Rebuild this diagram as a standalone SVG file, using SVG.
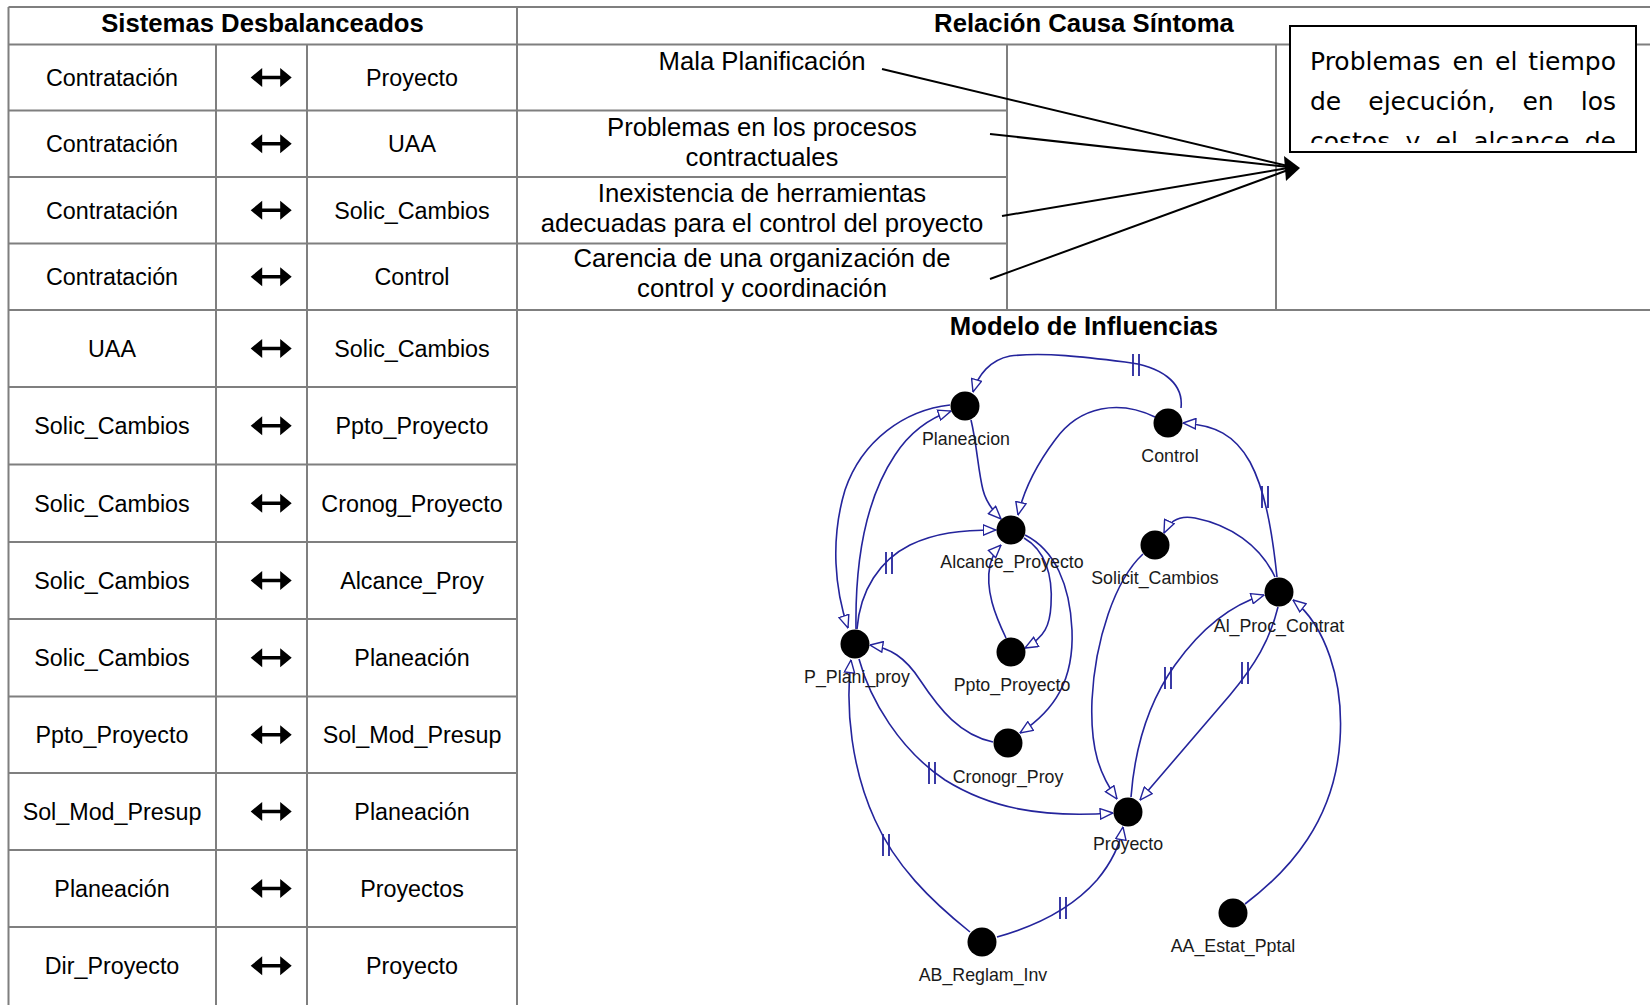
<svg xmlns="http://www.w3.org/2000/svg" xmlns:xlink="http://www.w3.org/1999/xlink" width="1650" height="1005" viewBox="0 0 1650 1005">
  <style>
    .grid { stroke: #7f7f7f; stroke-width: 2; fill: none; }
    .cell { font-family: "Liberation Sans", Arial, sans-serif; font-size: 23.3px; fill: #000; text-anchor: middle; }
    .cause { font-family: "Liberation Sans", Arial, sans-serif; font-size: 25.7px; fill: #000; text-anchor: middle; }
    .head { font-family: "Liberation Sans", Arial, sans-serif; font-size: 25.7px; font-weight: bold; fill: #000; text-anchor: middle; }
    .box { font-family: "DejaVu Sans", Verdana, sans-serif; font-size: 25px; fill: #000; }
    .link { stroke: #000; stroke-width: 2; fill: none; }
    .flow { stroke: #24249c; stroke-width: 1.6; fill: none; marker-end: url(#hollow); }
    .mark { stroke: #24249c; stroke-width: 1.8; }
    .dot { fill: #000; }
    .lbl { font-family: "Liberation Sans", Arial, sans-serif; font-size: 17.8px; fill: #1a1a1a; text-anchor: middle; }
  </style>
  <defs>
    <marker id="hollow" viewBox="0 0 14 12" markerUnits="userSpaceOnUse" markerWidth="14" markerHeight="12" refX="13.5" refY="6" orient="auto">
      <path d="M0.8,0.8 L13.5,6 L0.8,11.2 Z" fill="#fff" stroke="#24249c" stroke-width="1.4"/>
    </marker>
    <path id="dbl" d="M-20.5,0 L-9,-9.5 L-9,-1.8 L9,-1.8 L9,-9.5 L20.5,0 L9,9.5 L9,1.8 L-9,1.8 L-9,9.5 Z" fill="#000"/>
    <g id="delay">
      <line class="mark" x1="-3" y1="-11" x2="-3" y2="11"/>
      <line class="mark" x1="3" y1="-11" x2="3" y2="11"/>
    </g>
    <clipPath id="boxclip">
      <rect x="1291" y="27" width="344" height="116"/>
    </clipPath>
  </defs>

  <rect width="1650" height="1005" fill="#fff"/>

  <!-- table grid -->
  <g id="table-grid" class="grid">
    <line x1="8.5" y1="7" x2="1650" y2="7"/>
    <line x1="8.5" y1="44.5" x2="1650" y2="44.5"/>
    <line x1="8.5" y1="310" x2="1650" y2="310"/>
    <line x1="8.5" y1="7" x2="8.5" y2="1005"/>
    <line x1="517" y1="7" x2="517" y2="1005"/>
    <line x1="216" y1="44.5" x2="216" y2="1005"/>
    <line x1="307" y1="44.5" x2="307" y2="1005"/>
    <line x1="1007" y1="44.5" x2="1007" y2="310"/>
    <line x1="1276" y1="44.5" x2="1276" y2="310"/>
    <!-- rows of the left table -->
    <line x1="8.5" y1="110.5" x2="1007" y2="110.5"/>
    <line x1="8.5" y1="177" x2="1007" y2="177"/>
    <line x1="8.5" y1="243.5" x2="1007" y2="243.5"/>
    <line x1="8.5" y1="387" x2="517" y2="387"/>
    <line x1="8.5" y1="464.5" x2="517" y2="464.5"/>
    <line x1="8.5" y1="542" x2="517" y2="542"/>
    <line x1="8.5" y1="619" x2="517" y2="619"/>
    <line x1="8.5" y1="696.5" x2="517" y2="696.5"/>
    <line x1="8.5" y1="773" x2="517" y2="773"/>
    <line x1="8.5" y1="850" x2="517" y2="850"/>
    <line x1="8.5" y1="927" x2="517" y2="927"/>
  </g>

  <!-- headers -->
  <text class="head" x="262.5" y="32">Sistemas Desbalanceados</text>
  <text class="head" x="1084" y="32">Relación Causa Síntoma</text>
  <text class="head" x="1084" y="335">Modelo de Influencias</text>

  <!-- unbalanced system pairs -->
  <g id="pairs">
    <g id="row1"><text class="cell" x="112" y="86">Contratación</text><use href="#dbl" x="271.2" y="77.5"/><text class="cell" x="412" y="86">Proyecto</text></g>
    <g id="row2"><text class="cell" x="112" y="152">Contratación</text><use href="#dbl" x="271.2" y="143.8"/><text class="cell" x="412" y="152">UAA</text></g>
    <g id="row3"><text class="cell" x="112" y="219">Contratación</text><use href="#dbl" x="271.2" y="210.3"/><text class="cell" x="412" y="219">Solic_Cambios</text></g>
    <g id="row4"><text class="cell" x="112" y="285">Contratación</text><use href="#dbl" x="271.2" y="276.8"/><text class="cell" x="412" y="285">Control</text></g>
    <g id="row5"><text class="cell" x="112" y="357">UAA</text><use href="#dbl" x="271.2" y="348.5"/><text class="cell" x="412" y="357">Solic_Cambios</text></g>
    <g id="row6"><text class="cell" x="112" y="434">Solic_Cambios</text><use href="#dbl" x="271.2" y="425.8"/><text class="cell" x="412" y="434">Ppto_Proyecto</text></g>
    <g id="row7"><text class="cell" x="112" y="512">Solic_Cambios</text><use href="#dbl" x="271.2" y="503.3"/><text class="cell" x="412" y="512">Cronog_Proyecto</text></g>
    <g id="row8"><text class="cell" x="112" y="589">Solic_Cambios</text><use href="#dbl" x="271.2" y="580.5"/><text class="cell" x="412" y="589">Alcance_Proy</text></g>
    <g id="row9"><text class="cell" x="112" y="666">Solic_Cambios</text><use href="#dbl" x="271.2" y="657.8"/><text class="cell" x="412" y="666">Planeación</text></g>
    <g id="row10"><text class="cell" x="112" y="743">Ppto_Proyecto</text><use href="#dbl" x="271.2" y="734.8"/><text class="cell" x="412" y="743">Sol_Mod_Presup</text></g>
    <g id="row11"><text class="cell" x="112" y="820">Sol_Mod_Presup</text><use href="#dbl" x="271.2" y="811.5"/><text class="cell" x="412" y="820">Planeación</text></g>
    <g id="row12"><text class="cell" x="112" y="897">Planeación</text><use href="#dbl" x="271.2" y="888.5"/><text class="cell" x="412" y="897">Proyectos</text></g>
    <g id="row13"><text class="cell" x="112" y="974">Dir_Proyecto</text><use href="#dbl" x="271.2" y="965.8"/><text class="cell" x="412" y="974">Proyecto</text></g>
  </g>

  <!-- causes -->
  <g id="causes">
    <text class="cause" x="762" y="70">Mala Planificación</text>
    <text class="cause" x="762" y="136">Problemas en los procesos</text>
    <text class="cause" x="762" y="166">contractuales</text>
    <text class="cause" x="762" y="202">Inexistencia de herramientas</text>
    <text class="cause" x="762" y="232">adecuadas para el control del proyecto</text>
    <text class="cause" x="762" y="267">Carencia de una organización de</text>
    <text class="cause" x="762" y="297">control y coordinación</text>
  </g>

  <!-- symptom box -->
  <g id="symptom">
    <rect x="1290" y="26" width="346" height="126" fill="#fff" stroke="#000" stroke-width="2"/>
    <g clip-path="url(#boxclip)" class="box">
      <text y="70"><tspan x="1310">Problemas</tspan><tspan x="1452.6">en</tspan><tspan x="1495">el</tspan><tspan x="1616" text-anchor="end">tiempo</tspan></text>
      <text y="110"><tspan x="1310">de</tspan><tspan x="1368.3">ejecución,</tspan><tspan x="1522.4">en</tspan><tspan x="1616" text-anchor="end">los</tspan></text>
      <text y="150"><tspan x="1310">costos</tspan><tspan x="1405.5">y</tspan><tspan x="1435.6">el</tspan><tspan x="1473.2">alcance</tspan><tspan x="1616" text-anchor="end">de</tspan></text>
    </g>
  </g>

  <!-- cause to symptom links -->
  <g id="cause-links">
    <line class="link" x1="882" y1="69" x2="1288" y2="166"/>
    <line class="link" x1="990" y1="134" x2="1288" y2="167"/>
    <line class="link" x1="1002" y1="216" x2="1288" y2="168"/>
    <line class="link" x1="990" y1="279" x2="1288" y2="170"/>
    <polygon points="1300,168 1284,156 1286,181" fill="#000"/>
  </g>

  <!-- influence model connectors -->
  <g id="connectors">
    <path class="flow" d="M1181,408 C1184,382 1160,366 1125,362 C1085,357 1045,352 1010,356 C990,360 978,375 973,392"/>
    <path class="flow" d="M971,420 C977,445 978,470 983,490 C986,502 992,510 1001,519"/>
    <path class="flow" d="M1155,417 C1120,400 1080,405 1055,440 C1040,460 1025,485 1018,515"/>
    <path class="flow" d="M950,405 C905,410 862,440 845,490 C830,540 835,590 848,628"/>
    <path class="flow" d="M856,629 C855,560 865,500 895,455 C910,432 930,418 951,411"/>
    <path class="flow" d="M857,629 C860,590 880,560 910,545 C935,533 960,530 996,530"/>
    <path class="flow" d="M1006,638 C995,615 985,590 990,565 C992,557 995,551 1001,545"/>
    <path class="flow" d="M1024,538 C1045,550 1053,575 1051,605 C1050,625 1045,637 1025,648"/>
    <path class="flow" d="M1025,535 C1055,550 1070,585 1072,630 C1074,680 1055,710 1020,733"/>
    <path class="flow" d="M993,742 C960,735 940,710 920,680 C905,657 890,648 870,645"/>
    <path class="flow" d="M859,659 C870,700 900,750 945,780 C990,808 1040,818 1113,813"/>
    <path class="flow" d="M970,932 C930,900 895,865 875,820 C852,770 845,710 851,660"/>
    <path class="flow" d="M997,937 C1040,925 1075,905 1097,880 C1112,862 1120,845 1123,827"/>
    <path class="flow" d="M1143,554 C1115,580 1095,640 1092,700 C1090,750 1100,775 1117,799"/>
    <path class="flow" d="M1275,577 C1260,545 1230,525 1195,518 C1180,515 1170,520 1164,533"/>
    <path class="flow" d="M1277,577 C1272,530 1265,490 1250,462 C1235,435 1215,425 1183,423"/>
    <path class="flow" d="M1131,797 C1135,745 1150,700 1175,665 C1200,630 1230,605 1264,595"/>
    <path class="flow" d="M1278,607 C1270,640 1255,665 1230,695 C1200,730 1170,765 1140,800"/>
    <path class="flow" d="M1245,904 C1290,870 1335,820 1340,740 C1344,680 1325,625 1293,600"/>
    <!-- delay marks -->
    <use href="#delay" x="1136" y="365"/>
    <use href="#delay" x="889" y="563"/>
    <use href="#delay" x="932" y="773"/>
    <use href="#delay" x="886" y="845"/>
    <use href="#delay" x="1063" y="908"/>
    <use href="#delay" x="1265" y="497"/>
    <use href="#delay" x="1168" y="678"/>
    <use href="#delay" x="1245" y="673"/>
  </g>

  <!-- influence model nodes -->
  <g id="node-planeacion"><circle class="dot" cx="965" cy="406" r="14.5"/><text class="lbl" x="966" y="445">Planeacion</text></g>
  <g id="node-control"><circle class="dot" cx="1168" cy="423" r="14.5"/><text class="lbl" x="1170" y="462">Control</text></g>
  <g id="node-alcance"><circle class="dot" cx="1011" cy="530" r="14.5"/><text class="lbl" x="1012" y="568">Alcance_Proyecto</text></g>
  <g id="node-solicit"><circle class="dot" cx="1155" cy="545" r="14.5"/><text class="lbl" x="1155" y="584">Solicit_Cambios</text></g>
  <g id="node-alproc"><circle class="dot" cx="1279" cy="592" r="14.5"/><text class="lbl" x="1279" y="632">Al_Proc_Contrat</text></g>
  <g id="node-pplani"><circle class="dot" cx="855" cy="644" r="14.5"/><text class="lbl" x="857" y="683">P_Plani_proy</text></g>
  <g id="node-ppto"><circle class="dot" cx="1011" cy="652" r="14.5"/><text class="lbl" x="1012" y="691">Ppto_Proyecto</text></g>
  <g id="node-cronogr"><circle class="dot" cx="1008" cy="743" r="14.5"/><text class="lbl" x="1008" y="783">Cronogr_Proy</text></g>
  <g id="node-proyecto"><circle class="dot" cx="1128" cy="812" r="14.5"/><text class="lbl" x="1128" y="850">Proyecto</text></g>
  <g id="node-ab"><circle class="dot" cx="982" cy="942" r="14.5"/><text class="lbl" x="983" y="981">AB_Reglam_Inv</text></g>
  <g id="node-aa"><circle class="dot" cx="1233" cy="913" r="14.5"/><text class="lbl" x="1233" y="952">AA_Estat_Pptal</text></g>
</svg>
